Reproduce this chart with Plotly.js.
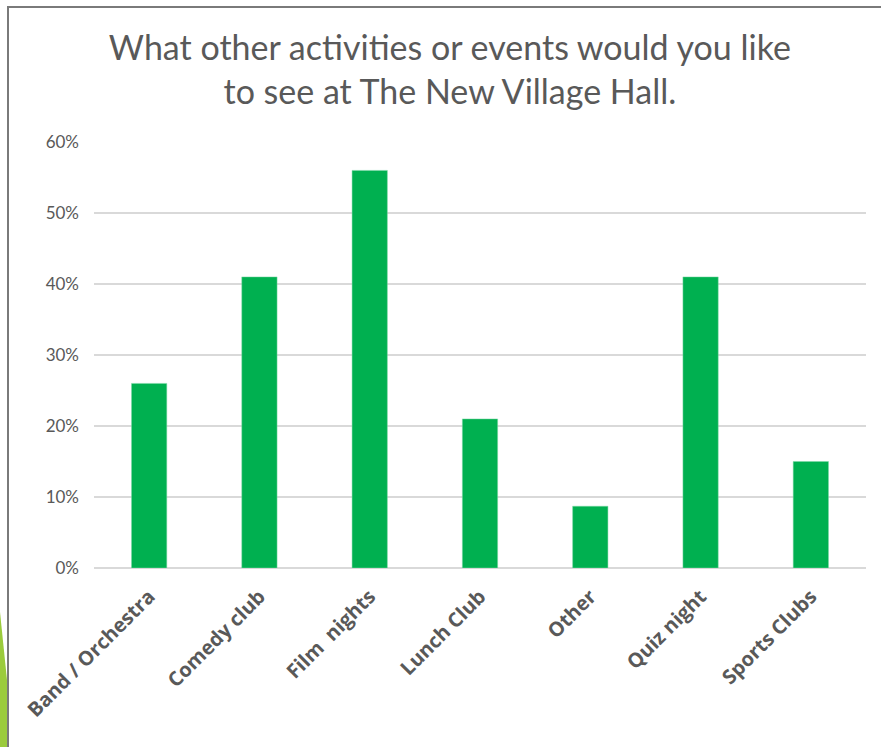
<!DOCTYPE html>
<html>
<head>
<meta charset="utf-8">
<script src="https://cdn.plot.ly/plotly-3.0.1.min.js"></script>
<style>
  html, body { margin: 0; padding: 0; background: #fff; }
  #wrap { position: relative; width: 881px; height: 747px; overflow: hidden; }
  #chart { position: absolute; left: 0; top: 0; width: 881px; height: 747px; }
  #frame { position: absolute; left: 7px; top: 6px; width: 890px; height: 760px;
           border-top: 2px solid #7a7a7a; border-left: 2px solid #7a7a7a; pointer-events: none; }
  #deco { position: absolute; left: 0; top: 0; pointer-events: none; }
</style>
</head>
<body>
<div id="wrap">
  <div id="chart"></div>
  <svg id="deco" width="881" height="747"><polygon points="0,612 7,680 7,747 0,747" fill="#9BCB3C"/></svg>
  <div id="frame"></div>
</div>
<script>
const categories = ["Band / Orchestra", "Comedy club", "Film  nights", "Lunch Club", "Other", "Quiz night", "Sports Clubs"];
const values = [0.26, 0.41, 0.56, 0.21, 0.087, 0.41, 0.15];
const tickValues = [0, 0.1, 0.2, 0.3, 0.4, 0.5, 0.6];
const tickLabels = ["0%", "10%", "20%", "30%", "40%", "50%", "60%"];
const titleText = "What other activities or events would you like<br>to see at The New Village Hall.";

const trace = {
  type: "bar",
  x: categories,
  y: values,
  marker: { color: "#00B050", line: { color: "#7FD8A7", width: 0.5 } },
  hoverinfo: "x+y"
};

const layout = {
  width: 881, height: 747,
  margin: { l: 94, r: 15, t: 142, b: 179 },
  paper_bgcolor: "rgba(0,0,0,0)",
  plot_bgcolor: "#fff",
  showlegend: false,
  bargap: 0.68,
  font: { family: "Lato, 'Open Sans', sans-serif", color: "#595959" },
  title: {
    text: titleText,
    font: { family: "Lato, 'Open Sans', sans-serif", size: 34, color: "#595959" },
    x: 0.461, xanchor: "center", y: 0.92, yanchor: "top", xref: "paper"
  },
  xaxis: {
    type: "category",
    tickangle: -45,
    tickfont: { family: "'Open Sans', Lato, sans-serif", size: 20, color: "#595959", weight: "bold" },
    showgrid: false, showline: false, zeroline: false, ticks: "",
    ticklabelstandoff: 12
  },
  yaxis: {
    range: [0, 0.6],
    tickvals: tickValues,
    ticktext: tickLabels,
    tickfont: { family: "Lato, 'Open Sans', sans-serif", size: 17, color: "#595959" },
    showgrid: true, gridcolor: "#D9D9D9", gridwidth: 1.5,
    zeroline: true, zerolinecolor: "#D9D9D9", zerolinewidth: 2,
    showline: false, ticks: "", ticklabelstandoff: 14
  }
};
Plotly.newPlot("chart", [trace], layout, { displayModeBar: false, staticPlot: true });
</script>
</body>
</html>
